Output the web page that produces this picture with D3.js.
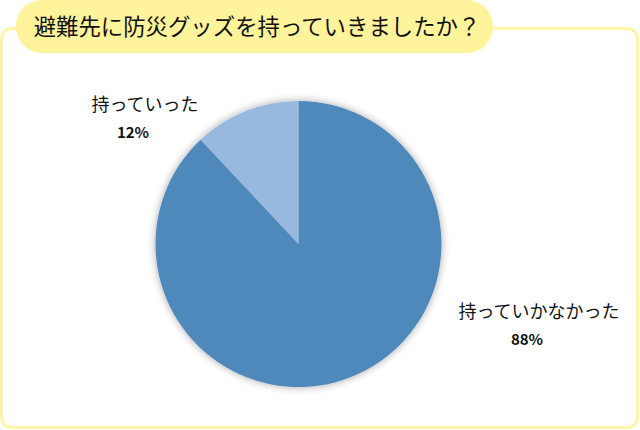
<!DOCTYPE html>
<html>
<head>
<meta charset="utf-8">
<script src="https://cdn.jsdelivr.net/npm/d3@7"></script>
<style>
  html, body { margin: 0; padding: 0; background: #fff; }
  svg { display: block; }
</style>
</head>
<body>
<div id="chart"></div>
<script>
// データ
const categories = ["持っていかなかった", "持っていった"];
const values = [88, 12];
const percentLabels = ["88%", "12%"];
const sliceColors = ["#4f88bb", "#97b9df"];
const title = "避難先に防災グッズを持っていきましたか？";

function drawChart() {
    const width = 640;
    const height = 430;
    const font = "'Noto Sans CJK JP', 'Noto Sans', sans-serif";

    const svg = d3.select("#chart")
        .append("svg")
        .attr("width", width)
        .attr("height", height);

    // 影
    const defs = svg.append("defs");
    const filter = defs.append("filter")
        .attr("id", "shadow")
        .attr("x", "-20%").attr("y", "-20%")
        .attr("width", "140%").attr("height", "140%");
    filter.append("feGaussianBlur")
        .attr("in", "SourceAlpha")
        .attr("stdDeviation", 4)
        .attr("result", "blur");
    filter.append("feComponentTransfer")
        .attr("in", "blur")
        .attr("result", "faded")
        .append("feFuncA").attr("type", "linear").attr("slope", 0.35);
    const merge = filter.append("feMerge");
    merge.append("feMergeNode").attr("in", "faded");
    merge.append("feMergeNode").attr("in", "SourceGraphic");

    // 枠
    svg.append("rect")
        .attr("x", 1.5).attr("y", 28.5)
        .attr("width", 636).attr("height", 399)
        .attr("rx", 10)
        .attr("fill", "#fff")
        .attr("stroke", "#fff39c")
        .attr("stroke-width", 2.5);

    // タイトル
    svg.append("rect")
        .attr("x", 16).attr("y", 0)
        .attr("width", 477).attr("height", 53)
        .attr("rx", 26)
        .attr("fill", "#fff39c");

    svg.append("text")
        .attr("x", 257)
        .attr("y", 35)
        .attr("text-anchor", "middle")
        .attr("font-family", font)
        .attr("font-size", 22.4)
        .attr("fill", "#111")
        .text(title);

    // 円グラフ
    const cx = 298.5, cy = 244, r = 143;

    const pie = d3.pie().sort(null).value(d => d);
    const arc = d3.arc().innerRadius(0).outerRadius(r);
    const color = d3.scaleOrdinal(categories, sliceColors);

    const g = svg.append("g")
        .attr("transform", `translate(${cx},${cy})`)
        .attr("filter", "url(#shadow)");

    g.selectAll("path")
        .data(pie(values))
        .join("path")
        .attr("d", arc)
        .attr("fill", (d, i) => color(categories[i]));

    // ラベル
    const labelPos = [
        { x: 539, y: 318 },
        { x: 145, y: 111 }
    ];

    const labels = svg.append("g")
        .attr("font-family", font)
        .attr("text-anchor", "middle")
        .attr("fill", "#111");

    labels.selectAll("text.name")
        .data(categories)
        .join("text")
        .attr("class", "name")
        .attr("x", (d, i) => labelPos[i].x)
        .attr("y", (d, i) => labelPos[i].y)
        .attr("font-size", 18)
        .text(d => d);

    labels.selectAll("text.pct")
        .data(percentLabels)
        .join("text")
        .attr("class", "pct")
        .attr("x", (d, i) => labelPos[i].x - 12)
        .attr("y", (d, i) => labelPos[i].y + 27)
        .attr("font-size", 15)
        .attr("font-weight", "bold")
        .text(d => d);
}

document.addEventListener('DOMContentLoaded', () => {
    drawChart();
});
</script>
</body>
</html>
